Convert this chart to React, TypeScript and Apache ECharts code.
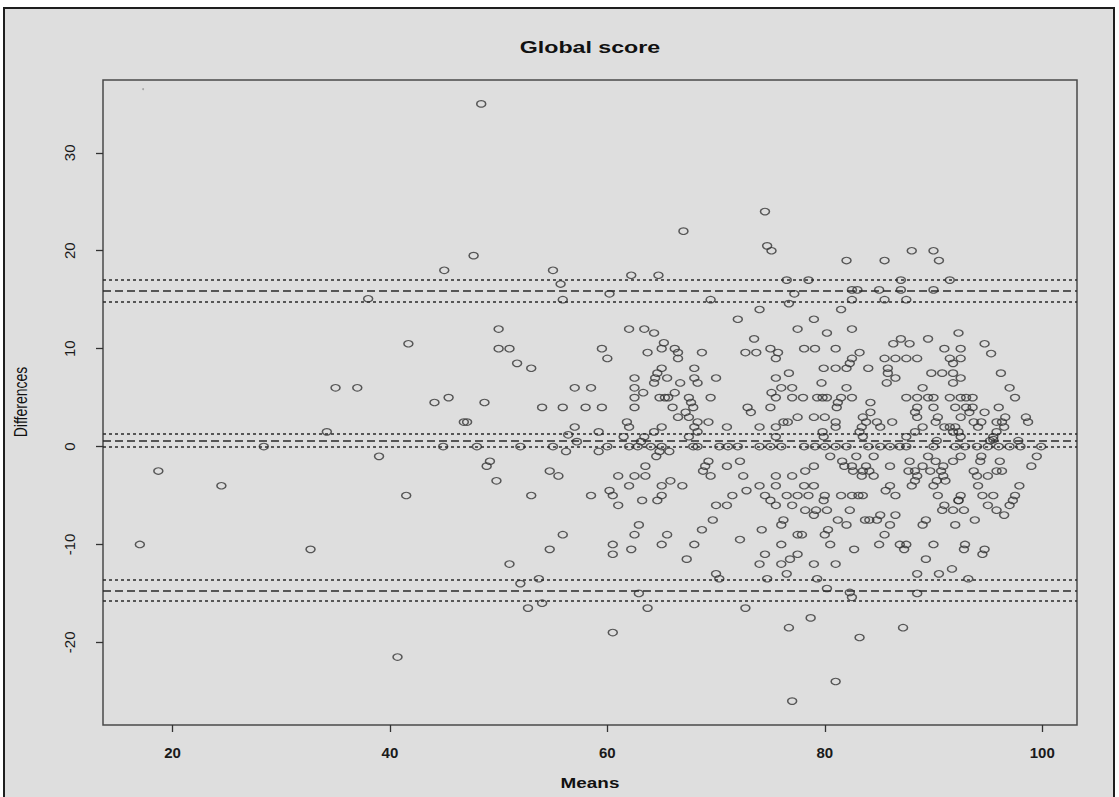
import React, { useEffect, useRef } from "react";
import * as echarts from "echarts";

// ---- data ----
const means: number[] = [
  17, 18.7, 24.5, 28.4, 32.7, 34.2, 35, 37, 38, 39, 40.7, 41.5, 41.7,
  48.4, 47.7, 45, 55, 55.7, 62.2,
  60.2, 55.9, 50, 50, 51, 51.7, 53, 59.5, 60, 62, 62.5, 62.5, 62.5, 62.5, 57, 58.5, 44.1, 45.4, 48.7, 54, 55.9, 58, 59.5,
  46.8, 47.1, 57, 61.8, 62, 59.2, 56.4, 57.2, 61.5, 44.9, 48, 52, 55, 60, 62, 56.2, 59.2, 49.2, 48.9, 49.8, 54.7, 55.5,
  61, 62.5, 62, 53, 58.5, 60.2, 60.5, 61,
  62.9, 62.5, 62.2, 60.5, 60.5, 55.9, 54.7, 51, 53.7, 52, 54, 52.7, 60.5, 62.9,
  64.7, 67, 74.5, 74.7, 75.1, 82, 76.5, 78.5,
  77.2, 69.5, 76.7, 82.5, 82.5, 81.5, 74, 72, 79, 63.4, 64.3, 77.5, 80.2, 82.5, 73.5, 65.2, 65, 63.7, 66.2, 66.5, 66.5,
  68.7, 72.7, 73.7, 75, 75.7, 75.5, 78.1, 79.1, 81, 82.5, 82.3, 82, 79.9, 81, 65, 64.6, 64.4, 64.3, 63.3, 65.5, 66.7,
  68, 68, 68.3, 70, 66.2, 64.8, 65.3, 65.6, 67.5, 67.7, 67.9, 69.5, 66, 66.5, 67.2, 67.5, 75.5, 76.7, 76, 77, 75.1,
  75.5, 77, 78, 79.7, 82, 79.3, 79.8, 80.2, 81.5, 82.5, 81.2, 81.1, 72.9, 73.2, 75, 77.5, 79, 80, 68.3, 69.3, 68, 68.3,
  65, 64.3, 63.4, 71, 74, 75.5, 76.2, 76.6, 81, 81, 79.8, 79.9, 67.5, 75.5, 63.1, 62.8, 64, 65, 67.9, 68.3, 70.3, 71.1,
  72, 74, 75, 76, 78.1, 79.1, 80, 81, 82, 64.8, 64.5, 65.7, 80.5, 81.6, 81.8, 69.3, 69, 68.8, 69.5, 71, 72.2, 63.5,
  63.5, 72.5, 75.5, 77, 78.2, 79, 82.5, 82.6, 65.8, 65, 66.9, 65, 64.6, 63.2, 74, 75.5, 72.8, 78.1, 79, 80, 71.5, 70,
  71, 74.5, 75, 75.5, 76.5, 77.5, 78.5, 79.9, 81.5, 82.5, 77,
  78.2, 79, 79.2, 80.2, 81.2, 82, 82.3, 65.5, 65, 68, 67.3, 69.7, 68.7, 72.2, 74.2, 76.2, 76, 77.5, 77.9, 80, 80.3,
  76, 80.5, 82.7, 74.5, 74, 76.8, 76, 77.5, 76.5, 79, 81, 70, 70.3, 74.7, 79.3, 80.2, 63.7, 72.7, 78.7, 76.7, 81, 77,
  83.7, 84.1, 84.8, 85.1, 86.5, 86, 85.5, 85, 86.9, 87.5, 87.3, 89.3, 89, 90, 89.3, 88.5, 90.5, 91.7, 93.2, 88.5, 82.3,
  82.5, 87.2, 83.2, 91, 90.8, 91.8, 92.8, 92.3, 92, 93.8, 92.9, 92.8, 94.7, 94.5, 95, 95.8, 96.5, 97, 97.3,
  85.5, 88, 90, 90.5, 87, 91.5,
  83, 85, 87, 90, 85.5, 87.5, 92.3, 86.3, 87, 87.8, 89.5, 94.7, 95.3, 91, 92.5, 83.2, 85.5, 86.5, 87.5, 88.5, 91.5,
  92.5, 91.8, 84, 85.8, 85.8, 86.5, 85.7, 89.8, 90.8, 91.8, 92.5, 91.8, 96.2, 89, 97, 97.5, 87.5, 88.5, 89.5, 90, 91.5,
  92.5, 93, 93.6, 84.2, 84.2, 88.5, 88.3, 88.5, 90, 92, 93, 93.6, 93.3, 94.7, 96, 83.5, 83.8, 83.4, 83.2, 83.5, 84.8,
  85.1, 86.2, 90.4, 90.2, 92.5, 91, 91.5, 92, 91.8, 92.3, 92.5, 89, 88.3, 93.7, 94.4, 94.1, 95.8, 96.3, 96.6, 96.5,
  95.8, 98.5, 98.7, 87.5, 95.5, 95.5, 84, 85.1, 86, 86.9, 87.5, 90, 92, 92.9, 94, 95, 96, 97, 98, 99.9, 90.3, 95.2,
  97.8, 82.9, 84.5, 89.5, 92.5, 94.4, 99.5, 87.8, 90.2, 91.8, 94.3, 96.1, 99, 86, 89, 90.9, 83.8, 83.5, 84.1, 83.4,
  84.5, 87.7, 88.3, 88.5, 88.3, 88, 89.7, 90.7, 90.9, 91.1, 90.3, 90, 93.7, 94, 95, 95.8, 96.3, 94.1, 97.9, 86, 85.6,
  86.5, 83.1, 83.5, 90.4, 92.5, 92.3, 94.5, 95.5, 97.5,
];

const differences: number[] = [
  -10, -2.5, -4, 0, -10.5, 1.5, 6, 6, 15.1, -1, -21.5, -5, 10.5,
  35, 19.5, 18, 18, 16.6, 17.5,
  15.6, 15, 12, 10, 10, 8.5, 8, 10, 9, 12, 7, 6, 5, 4, 6, 6, 4.5, 5, 4.5, 4, 4, 4, 4,
  2.5, 2.5, 2, 2.5, 2, 1.5, 1.2, 0.5, 1, 0, 0, 0, 0, 0, 0, -0.5, -0.5, -1.5, -2, -3.5, -2.5, -3,
  -3, -3, -4, -5, -5, -4.5, -5, -6,
  -8, -9, -10.5, -10, -11, -9, -10.5, -12, -13.5, -14, -16, -16.5, -19, -15,
  17.5, 22, 24, 20.5, 20, 19, 17, 17,
  15.6, 15, 14.6, 15, 16, 14, 14, 13, 13, 12, 11.6, 12, 11.6, 12, 11, 10.6, 10, 9.6, 10, 9.6, 9,
  9.6, 9.6, 9.6, 10, 9.6, 9, 10, 10, 10, 9, 8.5, 8, 8, 8, 8, 7.5, 7, 6.5, 5.5, 7, 6.5,
  8, 7, 6.5, 7, 5.5, 5, 5, 5, 5, 4.5, 4, 5, 4, 3, 3.5, 3, 7, 7.5, 6, 6, 5.5,
  5, 5, 5, 6.5, 6, 5, 5, 5, 5, 5, 4.5, 4, 4, 3.5, 4, 3, 3, 3, 2.5, 2.5, 2, 1.5,
  2, 1.5, 1, 2, 2, 2, 2.5, 2.5, 2.5, 2, 1.5, 1, 1, 1, 0.5, 0, 0, 0, 0, 0, 0, 0,
  0, 0, 0, 0, 0, 0, 0, 0, 0, -0.5, -1, -0.5, -1, -1.5, -2, -1.5, -2, -2.5, -3, -2, -1.5, -2,
  -3, -3, -3, -3, -2.5, -2, -2, -2.5, -3.5, -4, -4, -5, -5.5, -5.5, -4, -4, -4.5, -4, -4, -5, -5, -6,
  -6, -5, -5.5, -6, -5, -5, -5, -5.5, -5, -5, -6,
  -6.5, -7, -6.5, -6.5, -7.5, -8, -6.5, -9, -10, -10, -11.5, -7.5, -8.5, -9.5, -8.5, -7.5, -8, -9, -9, -9, -8.5,
  -10, -10, -10.5, -11, -12, -11.5, -12, -11, -13, -12, -12, -13, -13.5, -13.5, -13.5, -14.5, -16.5, -16.5, -17.5, -18.5, -24, -26,
  -7.5, -7.5, -7.5, -7, -7, -8, -9, -10, -10, -10, -10.5, -7.5, -8, -10, -11.5, -13, -13, -12.5, -13.5, -15, -14.9,
  -15.4, -18.5, -19.5, -6, -6.5, -6.5, -6.5, -5.5, -8, -7.5, -10, -10.5, -10.5, -11, -6, -6.5, -7, -6, -5.5,
  19, 20, 20, 19, 17, 17,
  16, 16, 16, 16, 15, 15, 11.6, 10.5, 11, 10.5, 11, 10.5, 9.5, 10, 10, 9.6, 9, 9, 9, 9, 9,
  9, 8.5, 8, 8, 7.5, 7, 6.5, 7.5, 7.5, 7.5, 7, 6.5, 7.5, 6, 6, 5, 5, 5, 5, 5, 5,
  5, 5, 5, 4.5, 3.5, 4, 3.5, 3, 4, 4, 4, 4, 3.5, 3.5, 4, 3, 2.5, 2, 1.5, 1, 2.5,
  2, 2.5, 3, 2.5, 3, 2, 2, 2, 1.5, 1.5, 1, 2, 1.5, 2.5, 2.5, 2, 2.5, 2.5, 3, 2,
  1.5, 3, 2.5, 1, 1, 0.7, 0, 0, 0, 0, 0, 0, 0, 0, 0, 0, 0, 0, 0, 0, 0.6, 0.6,
  0.6, -1, -1, -1, -1, -1, -1, -1.5, -1.5, -1.5, -1.5, -1.5, -2, -2, -2, -2, -2, -2.5, -2.5, -3,
  -3, -2.5, -2.5, -3, -3.5, -4, -2.5, -2.5, -3, -3.5, -3.5, -4, -2.5, -3, -3, -2.5, -2.5, -4, -4, -4, -4.5,
  -5, -5, -5, -5, -5, -5.5, -5, -5, -5,
];

// Bland-Altman reference lines: [lower CI, estimate, upper CI]
const upperLimit: number[] = [14.81, 15.94, 16.99];
const biasLine: number[] = [0.0, 0.61, 1.29];
const lowerLimit: number[] = [-15.76, -14.71, -13.65];

const xTicks: number[] = [20, 40, 60, 80, 100];
const yTicks: number[] = [-20, -10, 0, 10, 20, 30];

const xRange: number[] = [13.61, 103.2];
const yRange: number[] = [-28.44, 37.44];

const specks: number[][] = [[17.3, 36.5]];

const FONT = "'Liberation Sans', Arial, Helvetica, sans-serif";

export default function App() {
  const ref = useRef<HTMLDivElement>(null);

  useEffect(() => {
    if (!ref.current) return;
    const chart = echarts.init(ref.current, undefined, { renderer: "svg" });

    const refLine = (v: number, idx: number) => ({
      yAxis: v,
      lineStyle: {
        color: "#2a2a2a",
        width: 1.6,
        type: idx === 1 ? [8, 4] : [3, 3],
      },
    });

    const lineData = [
      ...upperLimit.map(refLine),
      ...biasLine.map(refLine),
      ...lowerLimit.map(refLine),
    ];

    const pts = means.map((m, i) => [m, differences[i]]);

    chart.setOption({
      animation: false,
      backgroundColor: "#ffffff",
      grid: {
        left: 103,
        top: 80,
        width: 974,
        height: 645,
        show: true,
        backgroundColor: "transparent",
        borderColor: "#4a4a4a",
        borderWidth: 1.5,
      },
      xAxis: {
        type: "value",
        min: xRange[0],
        max: xRange[1],
        splitLine: { show: false },
        axisLine: { show: false, onZero: false },
        axisTick: {
          show: true,
          customValues: xTicks,
          length: 7,
          lineStyle: { color: "#333", width: 1.3 },
        },
        axisLabel: {
          customValues: xTicks,
          margin: 20,
          color: "#1a1a1a",
          fontSize: 15,
          fontWeight: "bold",
          fontFamily: FONT,
        },
      },
      yAxis: {
        type: "value",
        min: yRange[0],
        max: yRange[1],
        splitLine: { show: false },
        axisLine: { show: false, onZero: false },
        axisTick: {
          show: true,
          customValues: yTicks,
          length: 7,
          lineStyle: { color: "#333", width: 1.3 },
        },
        axisLabel: {
          customValues: yTicks,
          rotate: 90,
          margin: 26,
          color: "#1a1a1a",
          fontSize: 15,
          fontFamily: FONT,
        },
      },
      graphic: [
        {
          type: "rect",
          z: -10,
          shape: { x: 4, y: 8, width: 1110, height: 800 },
          style: { fill: "#dedede", stroke: "#1e1e1e", lineWidth: 2 },
        },
        {
          type: "text",
          x: 590,
          y: 47,
          scaleX: 1.45,
          style: {
            text: "Global score",
            font: `bold 16px ${FONT}`,
            fill: "#111",
            align: "center",
            verticalAlign: "middle",
          },
        },
        {
          type: "text",
          x: 20,
          y: 402,
          rotation: Math.PI / 2,
          scaleY: 1.3,
          style: {
            text: "Differences",
            font: `14px ${FONT}`,
            fill: "#111",
            align: "center",
            verticalAlign: "middle",
          },
        },
        {
          type: "text",
          x: 590,
          y: 783,
          scaleX: 1.35,
          style: {
            text: "Means",
            font: `bold 14px ${FONT}`,
            fill: "#111",
            align: "center",
            verticalAlign: "middle",
          },
        },
      ],
      series: [
        {
          type: "scatter",
          data: pts,
          symbol: "circle",
          symbolSize: [9, 6.5],
          itemStyle: {
            color: "rgba(0,0,0,0)",
            borderColor: "#333333",
            borderWidth: 1.3,
          },
          markLine: {
            silent: true,
            symbol: ["none", "none"],
            label: { show: false },
            data: lineData,
          },
        },
        {
          type: "scatter",
          data: specks,
          symbol: "circle",
          symbolSize: 2,
          itemStyle: { color: "#9a9a9a" },
        },
      ],
    });

    return () => chart.dispose();
  }, []);

  return (
    <div
      ref={ref}
      style={{ position: "fixed", left: 0, top: 0, width: 1119, height: 797 }}
    />
  );
}
